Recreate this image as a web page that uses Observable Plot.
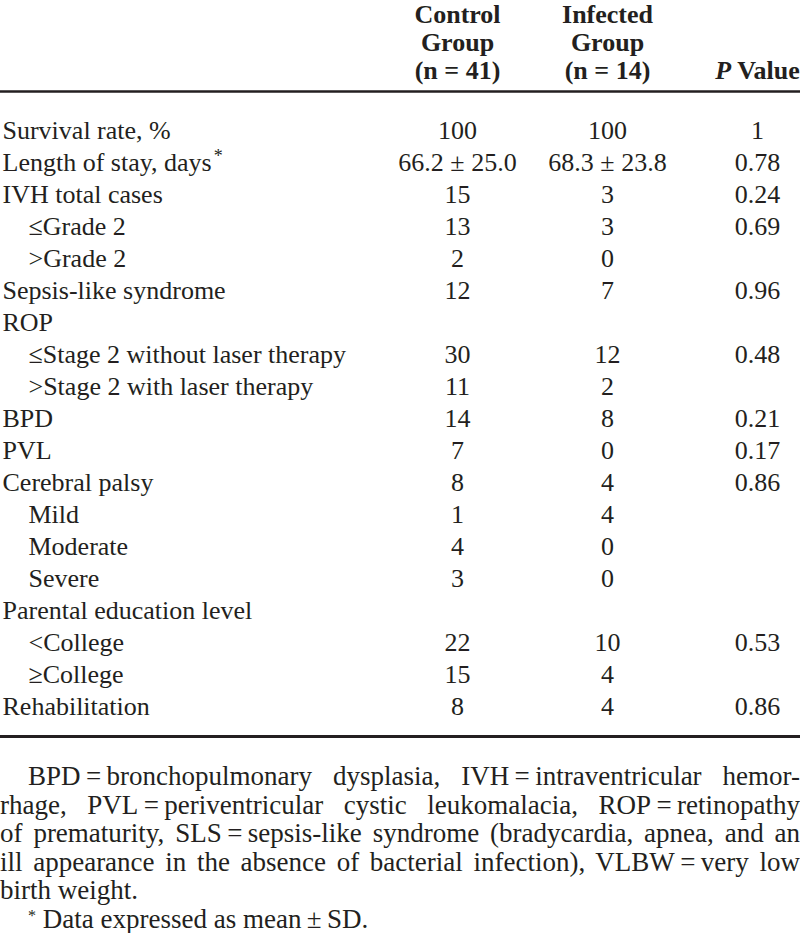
<!DOCTYPE html>
<html>
<head>
<meta charset="utf-8">
<script src="https://cdn.jsdelivr.net/npm/d3@7"></script>
<script src="https://cdn.jsdelivr.net/npm/@observablehq/plot@0.6"></script>
<style>
  html, body { margin: 0; padding: 0; background: #ffffff; }
  #chart svg { display: block; }
  #notes { font-family: "Liberation Serif", "Times New Roman", serif; font-size: 27px; line-height: 28.5px; color: #231f20; width: 800px; margin-top: 22px; }
  #notes .j { text-align: justify; text-align-last: justify; white-space: nowrap; }
  #notes .l { text-align: left; white-space: nowrap; }
  #notes .ind { padding-left: 28px; }
  #notes sup { font-size: 16px; line-height: 0; vertical-align: 7px; }
</style>
</head>
<body>
<div id="chart"></div>
<div id="notes"></div>
<script>
// ---- data ----
const columns = ["Control", "Infected", "P"];
const headerText = ["Control\nGroup\n(n = 41)", "Infected\nGroup\n(n = 14)", "P Value"];

const labels = [
  "Survival rate, %",
  "Length of stay, days*",
  "IVH total cases",
  "\u2264Grade 2",
  ">Grade 2",
  "Sepsis-like syndrome",
  "ROP",
  "\u2264Stage 2 without laser therapy",
  ">Stage 2 with laser therapy",
  "BPD",
  "PVL",
  "Cerebral palsy",
  "Mild",
  "Moderate",
  "Severe",
  "Parental education level",
  "<College",
  "\u2265College",
  "Rehabilitation"
];
const levels = [0, 0, 0, 1, 1, 0, 0, 1, 1, 0, 0, 0, 1, 1, 1, 0, 1, 1, 0];
const controlValues = ["100", "66.2 \u00b1 25.0", "15", "13", "2", "12", "", "30", "11", "14", "7", "8", "1", "4", "3", "", "22", "15", "8"];
const infectedValues = ["100", "68.3 \u00b1 23.8", "3", "3", "0", "7", "", "12", "2", "8", "0", "4", "4", "0", "0", "", "10", "4", "4"];
const pValues = ["1", "0.78", "0.24", "0.69", "", "0.96", "", "0.48", "", "0.21", "0.17", "0.86", "", "", "", "", "0.53", "", "0.86"];

const noteLines = [
  "BPD\u2009=\u2009bronchopulmonary dysplasia, IVH\u2009=\u2009intraventricular hemor-",
  "rhage, PVL\u2009=\u2009periventricular cystic leukomalacia, ROP\u2009=\u2009retinopathy",
  "of prematurity, SLS\u2009=\u2009sepsis-like syndrome (bradycardia, apnea, and an",
  "ill appearance in the absence of bacterial infection), VLBW\u2009=\u2009very low",
  "birth weight.",
  "Data expressed as mean\u2009\u00b1\u2009SD."
];

// ---- table rows built from arrays ----
const rows = labels.map((label, i) => ({
  label,
  level: levels[i],
  control: controlValues[i],
  infected: infectedValues[i],
  p: pValues[i]
}));
const headers = columns.map((c, i) => ({col: c, text: headerText[i]}));

const ink = "#231f20";
const font = "Liberation Serif";

const svg = Plot.plot({
  width: 800,
  height: 740,
  marginLeft: 0,
  marginRight: 0,
  marginTop: 91,
  marginBottom: 4,
  style: {fontFamily: font, fontSize: "26px", color: ink, background: "#ffffff", overflow: "visible"},
  x: {type: "point", domain: columns, range: [457, 757], padding: 0, axis: null},
  y: {type: "point", domain: labels, range: [129, 707], padding: 0, axis: null},
  marks: [
    Plot.frame({anchor: "top", stroke: ink, strokeWidth: 2.5}),
    Plot.frame({anchor: "bottom", stroke: ink, strokeWidth: 3}),
    // header
    Plot.text(headers, {
      x: "col", text: "text", frameAnchor: "top", lineAnchor: "bottom", dy: -13,
      lineHeight: 1.06, fontWeight: "bold", fontSize: 26, fill: ink, textAnchor: "middle"
    }),
    // row labels
    Plot.text(rows.filter(d => d.level === 0), {
      y: "label", text: "label", frameAnchor: "left", textAnchor: "start", dx: 2, fontSize: 26, fill: ink
    }),
    Plot.text(rows.filter(d => d.level === 1), {
      y: "label", text: "label", frameAnchor: "left", textAnchor: "start", dx: 28, fontSize: 26, fill: ink
    }),
    // values
    Plot.text(rows, {x: () => "Control", y: "label", text: "control", fontSize: 26, fill: ink}),
    Plot.text(rows, {x: () => "Infected", y: "label", text: "infected", fontSize: 26, fill: ink}),
    Plot.text(rows, {x: () => "P", y: "label", text: "p", fontSize: 26, fill: ink})
  ]
});

// rich text touch-ups: italic P, superscript asterisk
const NS = "http://www.w3.org/2000/svg";
svg.querySelectorAll("text").forEach(t => {
  const s = t.textContent;
  if (s === "P Value") {
    while (t.firstChild) t.removeChild(t.firstChild);
    const it = document.createElementNS(NS, "tspan");
    it.setAttribute("font-style", "italic");
    it.textContent = "P";
    t.appendChild(it);
    t.appendChild(document.createTextNode(" Value"));
  } else if (s.endsWith("*") && t.children.length === 0) {
    t.textContent = s.slice(0, -1);
    const sup = document.createElementNS(NS, "tspan");
    sup.setAttribute("dy", "-9");
    sup.setAttribute("dx", "2");
    sup.setAttribute("font-size", "18");
    sup.textContent = "*";
    t.appendChild(sup);
  }
});
document.getElementById("chart").appendChild(svg);

// footnote
const notes = document.getElementById("notes");
noteLines.forEach((line, i) => {
  const div = document.createElement("div");
  if (i < 4) div.className = "j"; else div.className = "l";
  if (i === 0 || i === 5) div.classList.add("ind");
  if (i === 5) {
    const sup = document.createElement("sup");
    sup.textContent = "*";
    div.appendChild(sup);
    div.appendChild(document.createTextNode(" " + line));
  } else {
    div.textContent = line;
  }
  notes.appendChild(div);
});
</script>
</body>
</html>
